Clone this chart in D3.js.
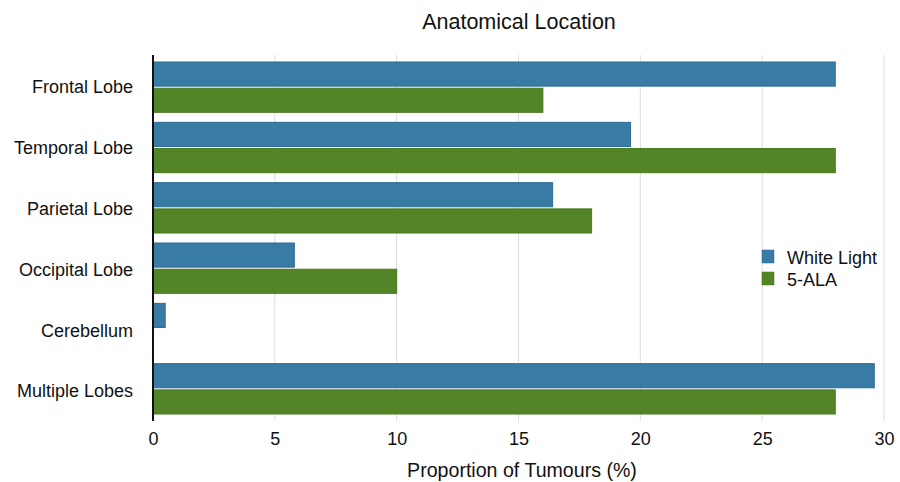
<!DOCTYPE html>
<html>
<head>
<meta charset="utf-8">
<script src="https://cdn.jsdelivr.net/npm/d3@7"></script>
<style>
  html, body { margin: 0; padding: 0; background: #fff; }
  svg { display: block; font-family: "Liberation Sans", Arial, Helvetica, sans-serif; }
</style>
</head>
<body>
<svg id="chart" width="900" height="482"></svg>
<script>
const categories = ["Frontal Lobe", "Temporal Lobe", "Parietal Lobe", "Occipital Lobe", "Cerebellum", "Multiple Lobes"];
const seriesNames = ["White Light", "5-ALA"];
const whiteLight = [28.0, 19.6, 16.4, 5.8, 0.5, 29.6];
const ala = [16.0, 28.0, 18.0, 10.0, 0, 28.0];
const xTicks = [0, 5, 10, 15, 20, 25, 30];
const colors = ["#387ca6", "#538527"];
const strokes = ["#2b6b94", "#477a1f"];

(function () {
const svg = d3.select("#chart");
const mLeft = 153, mRight = 884, mTop = 57, mBottom = 419;

const x = d3.scaleLinear().domain([0, 30]).range([mLeft, mRight]);
const y0 = d3.scaleBand().domain(categories).range([mTop, mBottom]).padding(0);
const y1 = d3.scaleBand().domain(seriesNames).range([5, y0.bandwidth() - 5]).paddingInner(0.08);
const yLab = d3.scaleBand().domain(categories).range([55, 420]).padding(0);

const seriesData = [whiteLight, ala];

// gridlines
svg.append("g").selectAll("line").data(xTicks.filter(t => t > 0)).join("line")
  .attr("x1", d => x(d)).attr("x2", d => x(d))
  .attr("y1", 55).attr("y2", 421)
  .attr("stroke", "#dcdcdc").attr("stroke-width", 1);

// bars
categories.forEach((c, i) => {
  seriesNames.forEach((s, j) => {
    const v = seriesData[j][i];
    if (v <= 0) return;
    svg.append("rect")
      .attr("x", x(0) + 0.5)
      .attr("y", y0(c) + y1(s))
      .attr("width", x(v) - x(0) - 0.5)
      .attr("height", y1.bandwidth())
      .attr("fill", colors[j])
      .attr("stroke", strokes[j])
      .attr("stroke-width", 1);
  });
});

// y axis line
svg.append("line")
  .attr("x1", mLeft).attr("x2", mLeft)
  .attr("y1", 55).attr("y2", 421)
  .attr("stroke", "#111").attr("stroke-width", 2);

// x axis (labels only)
const xAxis = d3.axisBottom(x).tickValues(xTicks).tickSize(0).tickPadding(0).tickFormat(d3.format("d"));
const gx = svg.append("g").attr("transform", `translate(0, 432)`).call(xAxis);
gx.select(".domain").remove();
gx.selectAll("text").attr("font-size", 18).attr("fill", "#111")
  .attr("font-family", "'Liberation Sans', Arial, sans-serif");

// y labels
const yAxis = d3.axisLeft(yLab).tickSize(0).tickPadding(0);
const gy = svg.append("g").attr("transform", `translate(133, 0)`).call(yAxis);
gy.select(".domain").remove();
gy.selectAll("text").attr("font-size", 18).attr("fill", "#111").attr("dy", "0.43em")
  .attr("font-family", "'Liberation Sans', Arial, sans-serif");

// title
svg.append("text").attr("x", 519).attr("y", 29).attr("text-anchor", "middle")
  .attr("font-size", 21.5).attr("fill", "#111").text("Anatomical Location");

// x axis title
svg.append("text").attr("x", 522).attr("y", 477).attr("text-anchor", "middle")
  .attr("font-size", 19.6).attr("fill", "#111").text("Proportion of Tumours (%)");

// legend
const legend = svg.append("g").attr("transform", "translate(762, 250)");
seriesNames.forEach((s, j) => {
  const g = legend.append("g").attr("transform", `translate(0, ${j * 22})`);
  g.append("rect").attr("width", 12).attr("height", 13)
    .attr("fill", colors[j]).attr("stroke", strokes[j]).attr("stroke-width", 0.5);
  g.append("text").attr("x", 25).attr("y", 14).attr("font-size", 18)
    .attr("fill", "#111").text(s);
});
})();
</script>
</body>
</html>
